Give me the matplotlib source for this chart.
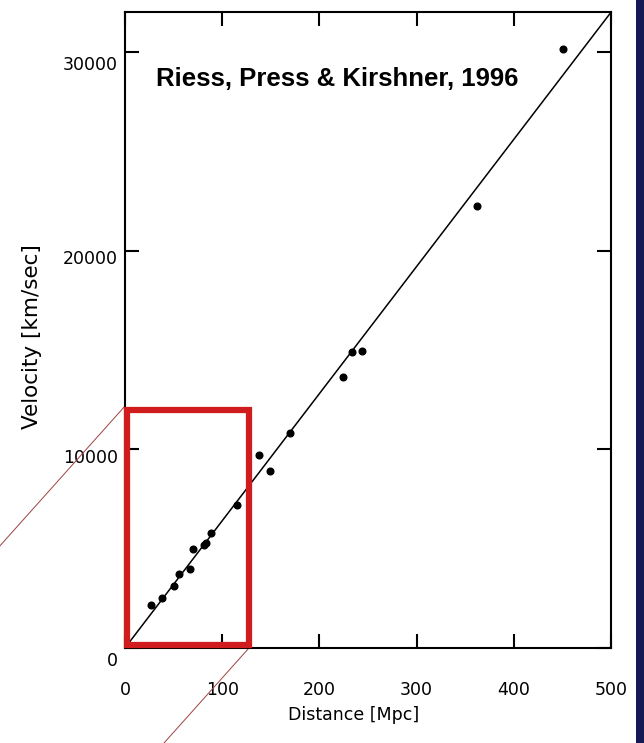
import matplotlib.pyplot as plt
from matplotlib.patches import Rectangle
from matplotlib.transforms import ScaledTranslation

# SN Ia distances (Mpc) and recession velocities (km/s)
distance = [27, 38, 50, 56, 67, 70, 81, 83, 88, 115,
            138, 149, 170, 224, 233, 244, 362, 450]
velocity = [2160, 2500, 3120, 3700, 3960, 4960, 5180, 5300, 5800, 7190,
            9710, 8920, 10800, 13620, 14900, 14960, 22230, 30160]

hubble_const = 64.0          # slope of the fitted line, km/s/Mpc
fit_range = [0, 500]

xticks = [0, 100, 200, 300, 400, 500]
yticks = [0, 10000, 20000, 30000]

# zoom box around the nearby sample
box_x = [2, 127.6]
box_y = [150, 11970]
guide_slope = 54.7           # km/s per Mpc for the two thin guide lines

fig = plt.figure(figsize=(6.44, 7.43), dpi=100)
fig.patch.set_facecolor('white')
ax = fig.add_axes([0.194, 0.1279, 0.755, 0.8559])

# dark strip along the right edge
fig.patches.append(Rectangle((0.9876, 0), 0.0124, 1, transform=fig.transFigure,
                             facecolor='#151a55', edgecolor='none', zorder=0))

ax.plot(fit_range, [hubble_const * x for x in fit_range], color='black', lw=1.1)
ax.plot(distance, velocity, 'o', color='black', markersize=4.8)

ax.set_xlim(0, 500)
ax.set_ylim(0, 32000)
ax.set_xticks(xticks)
ax.set_xticklabels([str(v) for v in xticks], fontsize=12.5)
ax.set_yticks(yticks)
ax.set_yticklabels([str(v) for v in yticks], fontsize=12.5)
ax.tick_params(direction='in', length=10, width=1.5, top=True, right=True)
ax.tick_params(axis='x', pad=24)
ax.tick_params(axis='y', pad=5)
for s in ax.spines.values():
     s.set_linewidth(1.5)

# tick labels sit a little below their ticks
for lab, dy in zip(ax.get_yticklabels(), [-8, -5, -5, -8]):
     lab.set_transform(lab.get_transform() + ScaledTranslation(0, dy / 72, fig.dpi_scale_trans))

ax.set_xlabel('Distance [Mpc]', fontsize=12.5)
ax.xaxis.set_label_coords(0.47, -0.092)
ax.set_ylabel('Velocity [km/sec]', fontsize=15.5)
ax.yaxis.set_label_coords(-0.17, 0.49)

ax.text(32, 28620, 'Riess, Press & Kirshner, 1996', fontsize=18.5, fontweight='bold',
        family=['Liberation Sans', 'DejaVu Sans'], ha='left', va='center')

box = Rectangle((box_x[0], box_y[0]), box_x[1] - box_x[0], box_y[1] - box_y[0],
                fill=False, edgecolor='#d01c1c', lw=4.5, clip_on=False, zorder=5)
ax.add_patch(box)

# thin guide lines leaving the box corners
x0, y0 = box_x[0] - 2, box_y[1] + 200
ax.plot([x0, x0 - 130], [y0, y0 - 130 * guide_slope], color='#a04040', lw=0.7, clip_on=False)
x1, y1 = box_x[1], 0
ax.plot([x1, x1 - 90], [y1, y1 - 90 * guide_slope], color='#a04040', lw=0.7, clip_on=False)

fig.savefig('out.png', dpi=100)
